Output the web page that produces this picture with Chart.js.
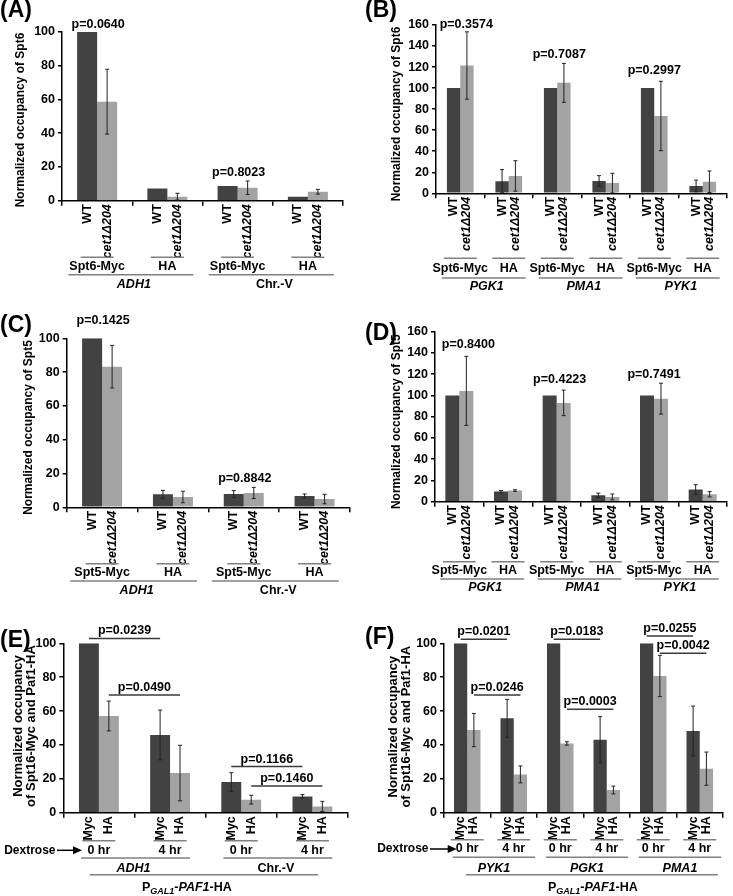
<!DOCTYPE html>
<html>
<head>
<meta charset="utf-8">
<script src="https://cdn.jsdelivr.net/npm/chart.js@4.4.1/dist/chart.umd.min.js"></script>
<style>
  body { margin: 0; background: #fff; width: 733px; height: 896px; position: relative; overflow: hidden; }
  canvas { position: absolute; }
</style>
</head>
<body>
<canvas id="cA" width="365" height="295" style="left:0;top:0"></canvas>
<canvas id="cB" width="368" height="295" style="left:365px;top:0"></canvas>
<canvas id="cC" width="365" height="300" style="left:0;top:295px"></canvas>
<canvas id="cD" width="368" height="300" style="left:365px;top:295px"></canvas>
<canvas id="cE" width="365" height="306" style="left:0;top:590px"></canvas>
<canvas id="cF" width="368" height="306" style="left:365px;top:590px"></canvas>
<script>
const FONT = '"Liberation Sans", Arial, sans-serif';
const DARK = '#424242';
const LIGHT = '#a3a3a3';

// bar labels under each pair
const adBarLabels = ['WT', 'cet1\u0394204'];
const efBarLabels = ['Myc', 'HA'];

// (A) Spt6 occupancy, ADH1 / Chr.-V
const aSub = ['Spt6-Myc', 'HA', 'Spt6-Myc', 'HA'];
const aGenes = ['ADH1', 'Chr.-V'];
const aWT = [100, 7.3, 8.7, 2.4];
const aWTErr = [0, 0, 0, 0];
const aCet = [58.7, 2.4, 7.7, 5.3];
const aCetErr = [19.2, 2, 4, 1.4];
const aP = ['p=0.0640', '', 'p=0.8023', ''];
const aPLevel = [104.7, 0, 16.4, 0];

// (B) Spt6 occupancy, PGK1 / PMA1 / PYK1
const bSub = ['Spt6-Myc', 'HA', 'Spt6-Myc', 'HA', 'Spt6-Myc', 'HA'];
const bGenes = ['PGK1', 'PMA1', 'PYK1'];
const bWT = [100, 11.5, 100, 11.8, 100, 7];
const bWTErr = [0, 11, 0, 5, 0, 5.5];
const bCet = [121.5, 16.5, 105, 9.7, 73.5, 11];
const bCetErr = [32, 14.5, 18.5, 9.3, 33, 10.2];
const bP = ['p=0.3574', '', 'p=0.7087', '', 'p=0.2997', ''];
const bPLevel = [160.9, 0, 131.5, 0, 116.5, 0];

// (C) Spt5 occupancy, ADH1 / Chr.-V
const cSub = ['Spt5-Myc', 'HA', 'Spt5-Myc', 'HA'];
const cGenes = ['ADH1', 'Chr.-V'];
const cWT = [100, 7.7, 7.9, 6.7];
const cWTErr = [0, 2.3, 2, 1.2];
const cCet = [83.2, 6.1, 8.5, 4.9];
const cCetErr = [12.6, 3.4, 3.3, 2.8];
const cP = ['p=0.1425', '', 'p=0.8842', ''];
const cPLevel = [110.8, 0, 17.2, 0];

// (D) Spt5 occupancy, PGK1 / PMA1 / PYK1
const dSub = ['Spt5-Myc', 'HA', 'Spt5-Myc', 'HA', 'Spt5-Myc', 'HA'];
const dGenes = ['PGK1', 'PMA1', 'PYK1'];
const dWT = [100, 9.5, 100, 6, 100, 11.5];
const dWTErr = [0, 1, 0, 2, 0, 4.5];
const dCet = [104.3, 10.5, 93, 4.5, 97, 7];
const dCetErr = [32.5, 0.7, 12, 2.7, 14.5, 2.5];
const dP = ['p=0.8400', '', 'p=0.4223', '', 'p=0.7491', ''];
const dPLevel = [147.5, 0, 114.5, 0, 119.9, 0];

// (E) Spt16-Myc and Paf1-HA, ADH1 / Chr.-V
const eSub = ['0 hr', '4 hr', '0 hr', '4 hr'];
const eGenes = ['ADH1', 'Chr.-V'];
const eMyc = [100, 45.9, 18.1, 9.6];
const eMycErr = [0, 14.7, 5.5, 1.1];
const eHA = [57.1, 23.4, 7.7, 3.7];
const eHAErr = [8.8, 16.4, 2.6, 3];
// brackets: [label, from category, to category, series, level]
const eBrackets = [
  ['p=0.0239', 0, 1, 0, 102.9],
  ['p=0.0490', 0, 1, 1, 69.5],
  ['p=0.1166', 2, 3, 0, 27.2],
  ['p=0.1460', 2, 3, 1, 15.8]
];

// (F) Spt16-Myc and Paf1-HA, PYK1 / PGK1 / PMA1
const fSub = ['0 hr', '4 hr', '0 hr', '4 hr', '0 hr', '4 hr'];
const fGenes = ['PYK1', 'PGK1', 'PMA1'];
const fMyc = [100, 55.7, 100, 43.1, 100, 48.2];
const fMycErr = [0, 11.2, 0, 13.6, 0, 14.7];
const fHA = [48.8, 22.6, 40.9, 13.4, 80.7, 26];
const fHAErr = [9.8, 5, 1, 2.3, 12.2, 9.8];
const fBrackets = [
  ['p=0.0201', 0, 1, 0, 102.4],
  ['p=0.0246', 0, 1, 1, 69.5],
  ['p=0.0183', 2, 3, 0, 102.4],
  ['p=0.0003', 2, 3, 1, 61],
  ['p=0.0255', 4, 5, 0, 104.3],
  ['p=0.0042', 4, 5, 1, 94.1]
];

Chart.defaults.color = '#000';
Chart.defaults.font.family = FONT;

function font(size, italic) {
  return (italic ? 'italic ' : '') + 'bold ' + size + 'px ' + FONT;
}
function text(ctx, s, x, y, size, italic, align) {
  ctx.font = font(size, italic);
  ctx.textAlign = align || 'center';
  ctx.textBaseline = 'middle';
  ctx.fillStyle = '#000';
  ctx.fillText(s, x, y);
}
function hline(ctx, x1, x2, y, color) {
  ctx.beginPath();
  ctx.strokeStyle = color;
  ctx.lineWidth = 1.5;
  ctx.moveTo(x1, y);
  ctx.lineTo(x2, y);
  ctx.stroke();
}

function decor(cfg) {
  return {
    id: 'decor',
    afterDatasetsDraw(chart) {
      const ctx = chart.ctx, y = chart.scales.y;
      ctx.save();
      ctx.strokeStyle = '#222';
      ctx.lineWidth = 1;
      [cfg.errA, cfg.errB].forEach((errs, d) => {
        const meta = chart.getDatasetMeta(d);
        const vals = d ? cfg.valB : cfg.valA;
        errs.forEach((e, i) => {
          if (!e) return;
          const x = meta.data[i].x;
          const top = y.getPixelForValue(vals[i] + e);
          const bot = y.getPixelForValue(Math.max(vals[i] - e, 0));
          ctx.beginPath();
          ctx.moveTo(x, top); ctx.lineTo(x, bot);
          ctx.moveTo(x - 2, top); ctx.lineTo(x + 2, top);
          ctx.moveTo(x - 2, bot); ctx.lineTo(x + 2, bot);
          ctx.stroke();
        });
      });
      ctx.restore();
    },
    afterDraw(chart) {
      const ctx = chart.ctx, y = chart.scales.y, L = cfg.lay;
      const yb = chart.chartArea.bottom;
      const n = cfg.sub.length;
      const cw = chart.scales.x.width / n;
      const m0 = chart.getDatasetMeta(0), m1 = chart.getDatasetMeta(1);
      const center = i => (m0.data[i].x + m1.data[i].x) / 2;
      ctx.save();

      // panel letter
      ctx.font = font(23, false);
      ctx.textAlign = 'left';
      ctx.textBaseline = 'alphabetic';
      ctx.fillStyle = '#000';
      ctx.fillText(cfg.letter, 0, L.letterY);

      // y title
      cfg.title.forEach((t, k) => {
        ctx.save();
        ctx.translate(L.titleX[k], L.titleY);
        ctx.rotate(-Math.PI / 2);
        text(ctx, t, 0, 0, L.titleSize, false);
        ctx.restore();
      });

      // rotated bar labels
      [m0, m1].forEach((meta, d) => {
        meta.data.forEach(bar => {
          ctx.save();
          ctx.translate(bar.x, yb + 3.5);
          ctx.rotate(-Math.PI / 2);
          text(ctx, cfg.barLabels[d], 0, 0, 12.5, cfg.italicSecond && d === 1, 'right');
          ctx.restore();
        });
      });

      // sub-group lines and labels
      for (let i = 0; i < n; i++) {
        const c = center(i);
        hline(ctx, c - 16.5, c + 16.5, yb + L.sub, '#808080');
        text(ctx, cfg.sub[i], c, yb + L.subT, 12.5, false);
      }

      // gene lines and labels
      const span = n / cfg.genes.length;
      cfg.genes.forEach((g, k) => {
        const x1 = center(k * span) - L.geneExt[0] * cw;
        const x2 = center(k * span + span - 1) + L.geneExt[1] * cw;
        hline(ctx, x1, x2, yb + L.gene, '#808080');
        text(ctx, g, (x1 + x2) / 2 + L.geneDx, yb + L.geneT, 12.5, g !== 'Chr.-V');
      });

      // p-values above pairs
      if (cfg.p) {
        cfg.p.forEach((p, i) => {
          if (!p) return;
          const dx = L.pDx ? L.pDx[i] : 1;
          text(ctx, p, center(i) + dx, y.getPixelForValue(cfg.pLevel[i]), 12.5, false);
        });
      }

      // p-value brackets
      if (cfg.brackets) {
        const metas = [m0, m1];
        cfg.brackets.forEach(([p, a, b, s, lev]) => {
          const x1 = metas[s].data[a].x, x2 = metas[s].data[b].x;
          const yy = y.getPixelForValue(lev);
          hline(ctx, x1, x2, yy, '#3a3a3a');
          text(ctx, p, (x1 + x2) / 2, yy - 7.5, 12.5, false);
        });
      }

      // dextrose arrow and outer construct label
      if (L.dex) {
        const yy = yb + L.subT;
        const tip = L.dex[0], start = L.dex[0] - L.dex[1];
        text(ctx, 'Dextrose', start - 1.5, yy, 12, false, 'right');
        ctx.beginPath();
        ctx.strokeStyle = '#000';
        ctx.lineWidth = 1.5;
        ctx.moveTo(start, yy); ctx.lineTo(tip - 7, yy);
        ctx.stroke();
        ctx.beginPath();
        ctx.fillStyle = '#000';
        ctx.moveTo(tip, yy); ctx.lineTo(tip - 9, yy - 4); ctx.lineTo(tip - 9, yy + 4);
        ctx.closePath(); ctx.fill();

        const x1 = center(0) - L.outerExt[0] * cw;
        const x2 = center(n - 1) + L.outerExt[1] * cw;
        hline(ctx, x1, x2, yb + L.outer, '#808080');
        const parts = [['P', 12.5, false, 0], ['GAL1', 9, true, 3.5], ['-', 12.5, false, 0],
                       ['PAF1', 12.5, true, 0], ['-HA', 12.5, false, 0]];
        let w = 0;
        parts.forEach(([s, sz, it]) => { ctx.font = font(sz, it); w += ctx.measureText(s).width; });
        let x = (x1 + x2) / 2 + L.outerDx - w / 2;
        parts.forEach(([s, sz, it, dy]) => {
          text(ctx, s, x, yb + L.outerT + dy, sz, it, 'left');
          ctx.font = font(sz, it);
          x += ctx.measureText(s).width;
        });
      }
      ctx.restore();
    }
  };
}

function panel(id, cfg) {
  const cv = document.getElementById(id);
  const A = cfg.area; // [left, right, top, bottom] of plot area
  new Chart(cv, {
    type: 'bar',
    data: {
      labels: cfg.sub,
      datasets: [
        { data: cfg.valA, backgroundColor: DARK, barPercentage: 1, categoryPercentage: cfg.catPct },
        { data: cfg.valB, backgroundColor: LIGHT, barPercentage: 1, categoryPercentage: cfg.catPct }
      ]
    },
    options: {
      responsive: false,
      animation: false,
      events: [],
      layout: { padding: { left: 0, top: A[2], right: cv.width - A[1], bottom: 0 } },
      plugins: { legend: { display: false }, tooltip: { enabled: false } },
      scales: {
        x: {
          ticks: { display: false },
          grid: { display: true, offset: true, drawOnChartArea: false, drawTicks: true, tickLength: 5, color: '#000', lineWidth: 1.5 },
          border: { display: true, color: '#000', width: 1.5 },
          afterFit: s => { s.height = cv.height - A[3]; }
        },
        y: {
          min: 0, max: cfg.yMax,
          ticks: { stepSize: 20, padding: 3, font: { size: 12.5, weight: 'bold', family: FONT }, color: '#000' },
          grid: { display: true, drawOnChartArea: false, drawTicks: true, tickLength: 4, color: '#000', lineWidth: 1.5 },
          border: { display: true, color: '#000', width: 1.5 },
          afterFit: s => { s.width = A[0]; }
        }
      }
    },
    plugins: [decor(cfg)]
  });
}

const titleAD5 = ['Normalized occupancy of Spt5'];
const titleAD6 = ['Normalized occupancy of Spt6'];
const titleEF = ['Normalized occupancy', 'of Spt16-Myc and Paf1-HA'];

panel('cA', {
  letter: '(A)', sub: aSub, genes: aGenes, valA: aWT, errA: aWTErr, valB: aCet, errB: aCetErr,
  p: aP, pLevel: aPLevel, barLabels: adBarLabels, italicSecond: true, title: titleAD6, yMax: 100, catPct: 0.57,
  area: [62, 343, 32, 200.7],
  lay: { letterY: 17, titleX: [21], titleY: 120, titleSize: 12, sub: 56.5, subT: 65.8, gene: 74, geneT: 84, geneExt: [0.41, 0.37], geneDx: 3 }
});
panel('cB', {
  letter: '(B)', sub: bSub, genes: bGenes, valA: bWT, errA: bWTErr, valB: bCet, errB: bCetErr,
  p: bP, pLevel: bPLevel, barLabels: adBarLabels, italicSecond: true, title: titleAD6, yMax: 160, catPct: 0.55,
  area: [71, 362, 25, 193.3],
  lay: { letterY: 17, titleX: [31.7], titleY: 114, titleSize: 12, sub: 65, subT: 75.7, gene: 84.7, geneT: 93.7, geneExt: [0.38, 0.35], geneDx: 3,
         pDx: [6, 0, 2, 0, 0, 0] }
});
panel('cC', {
  letter: '(C)', sub: cSub, genes: cGenes, valA: cWT, errA: cWTErr, valB: cCet, errB: cCetErr,
  p: cP, pLevel: cPLevel, barLabels: adBarLabels, italicSecond: true, title: titleAD5, yMax: 100, catPct: 0.565,
  area: [66.7, 350, 43.3, 212.3],
  lay: { letterY: 37, titleX: [28.3], titleY: 132.5, titleSize: 12, sub: 56.5, subT: 65.2, gene: 73.8, geneT: 83, geneExt: [0.45, 0.34], geneDx: 3 }
});
panel('cD', {
  letter: '(D)', sub: dSub, genes: dGenes, valA: dWT, errA: dWTErr, valB: dCet, errB: dCetErr,
  p: dP, pLevel: dPLevel, barLabels: adBarLabels, italicSecond: true, title: titleAD5, yMax: 160, catPct: 0.575,
  area: [70, 362, 36.7, 206.7],
  lay: { letterY: 45, titleX: [31.7], titleY: 126.7, titleSize: 12, sub: 60, subT: 69.3, gene: 77.3, geneT: 86, geneExt: [0.39, 0.33], geneDx: 3,
         pDx: [9, 0, 3, 0, 0, 0] }
});
panel('cE', {
  letter: '(E)', sub: eSub, genes: eGenes, valA: eMyc, errA: eMycErr, valB: eHA, errB: eHAErr,
  brackets: eBrackets, barLabels: efBarLabels, italicSecond: false, title: titleEF, yMax: 100, catPct: 0.56,
  area: [63.3, 348, 53.3, 222.7],
  lay: { letterY: 57, titleX: [18, 31], titleY: 136, titleSize: 13, sub: 28, subT: 37.6, gene: 45.3, geneT: 56.3, geneExt: [0.25, 0.28], geneDx: -2,
         dex: [82, 25], outer: 62, outerT: 75.3, outerExt: [0.13, 0.08], outerDx: -17 }
});
panel('cF', {
  letter: '(F)', sub: fSub, genes: fGenes, valA: fMyc, errA: fMycErr, valB: fHA, errB: fHAErr,
  brackets: fBrackets, barLabels: efBarLabels, italicSecond: false, title: titleEF, yMax: 100, catPct: 0.57,
  area: [79, 358, 53.3, 222.7],
  lay: { letterY: 54, titleX: [28.3, 41.7], titleY: 136.7, titleSize: 13, sub: 27, subT: 36.3, gene: 44.6, geneT: 56.3, geneExt: [0.31, 0.46], geneDx: 0,
         dex: [91.7, 26.7], outer: 62, outerT: 75.3, outerExt: [0.03, 0.39], outerDx: 1 }
});
</script>
</body>
</html>
